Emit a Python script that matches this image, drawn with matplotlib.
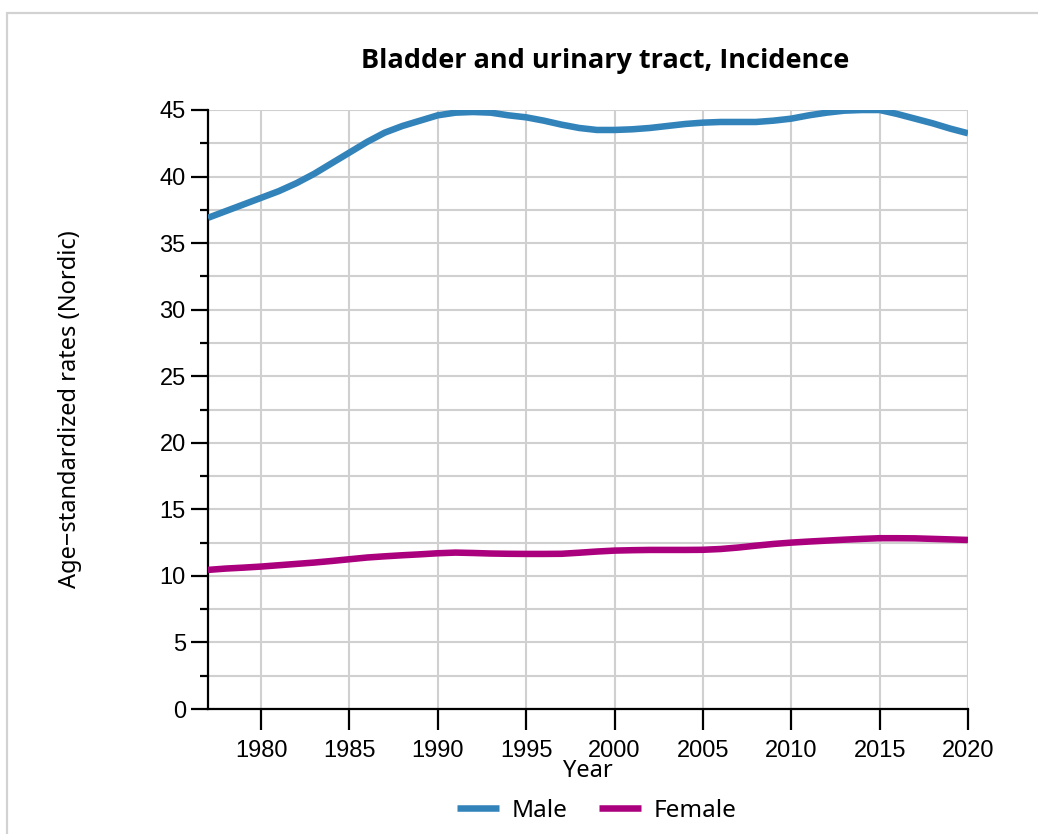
import matplotlib
matplotlib.use("Agg")
import matplotlib.pyplot as plt
from matplotlib.patches import Rectangle
from matplotlib.ticker import MultipleLocator

years = list(range(1977, 2021))
male = [36.9, 37.4, 37.9, 38.4, 38.9, 39.5, 40.2, 41.0, 41.8, 42.6,
        43.3, 43.8, 44.2, 44.6, 44.8, 44.85, 44.8, 44.6, 44.45, 44.2,
        43.9, 43.65, 43.5, 43.5, 43.55, 43.65, 43.8, 43.95, 44.05, 44.1,
        44.1, 44.1, 44.2, 44.35, 44.6, 44.8, 44.95, 45.0, 45.0, 44.7,
        44.35, 44.0, 43.6, 43.25]
female = [10.45, 10.55, 10.62, 10.7, 10.8, 10.9, 11.0, 11.12, 11.25, 11.38,
          11.47, 11.55, 11.62, 11.7, 11.75, 11.72, 11.68, 11.66, 11.65, 11.65,
          11.66, 11.74, 11.83, 11.9, 11.93, 11.95, 11.95, 11.95, 11.96, 12.02,
          12.13, 12.27, 12.4, 12.5, 12.58, 12.65, 12.72, 12.78, 12.83, 12.83,
          12.82, 12.78, 12.74, 12.7]
series_names = ["Male", "Female"]
colors = ["#3383bb", "#ab007d"]

txt_font = ["Noto Sans", "DejaVu Sans"]
title_font = ["Open Sans", "DejaVu Sans"]
num_font = ["Liberation Sans", "DejaVu Sans"]

fig = plt.figure(figsize=(10.38, 8.34), dpi=100)
fig.patches.append(Rectangle((7 / 1038, -0.01), 1.05, 1 - 13 / 834 + 0.01,
                             transform=fig.transFigure, fill=False,
                             edgecolor="#d2d2d2", linewidth=1.6))

ax = fig.add_axes([208 / 1038, 1 - 709 / 834, 760 / 1038, 599 / 834])
ax.plot(years, male, color=colors[0], lw=4.7, label=series_names[0],
        solid_capstyle="butt", zorder=3)
ax.plot(years, female, color=colors[1], lw=4.7, label=series_names[1],
        solid_capstyle="butt", zorder=3)

ax.set_xlim(1977, 2020)
ax.set_ylim(0, 45)
ax.xaxis.set_major_locator(MultipleLocator(5))
ax.yaxis.set_major_locator(MultipleLocator(5))
ax.yaxis.set_minor_locator(MultipleLocator(2.5))
ax.grid(True, which="both", axis="y", color="#d0d0d0", lw=1.5, zorder=0)
ax.grid(True, which="major", axis="x", color="#d0d0d0", lw=1.5, zorder=0)
ax.axvline(2020, color="#d0d0d0", lw=1.5, zorder=0)

for s in ["top", "right"]:
    ax.spines[s].set_visible(False)
ax.spines["left"].set_linewidth(1.6)
ax.spines["bottom"].set_linewidth(1.6)
ax.tick_params(axis="y", which="major", length=12, width=1.6, pad=4, labelsize=17)
ax.tick_params(axis="y", which="minor", length=6, width=1.6)
ax.tick_params(axis="x", which="major", length=15, width=1.6, pad=7, labelsize=17)
for lab in ax.get_xticklabels() + ax.get_yticklabels():
    lab.set_family(num_font)

ax.set_title("Bladder and urinary tract, Incidence", fontsize=19.5, fontweight="bold",
             family=title_font, pad=30, x=0.522)
ax.set_xlabel("Year", fontsize=17, family=txt_font, labelpad=-2)
ax.set_ylabel("Age\u2212standardized rates (Nordic)", fontsize=17, family=txt_font,
              labelpad=56)

leg = ax.legend(loc="upper center", bbox_to_anchor=(0.512, -0.113), ncol=2,
                frameon=False, prop={"family": txt_font, "size": 17.5},
                handlelength=1.7, columnspacing=1.3, handletextpad=0.55)

fig.savefig("out.png", dpi=100)
